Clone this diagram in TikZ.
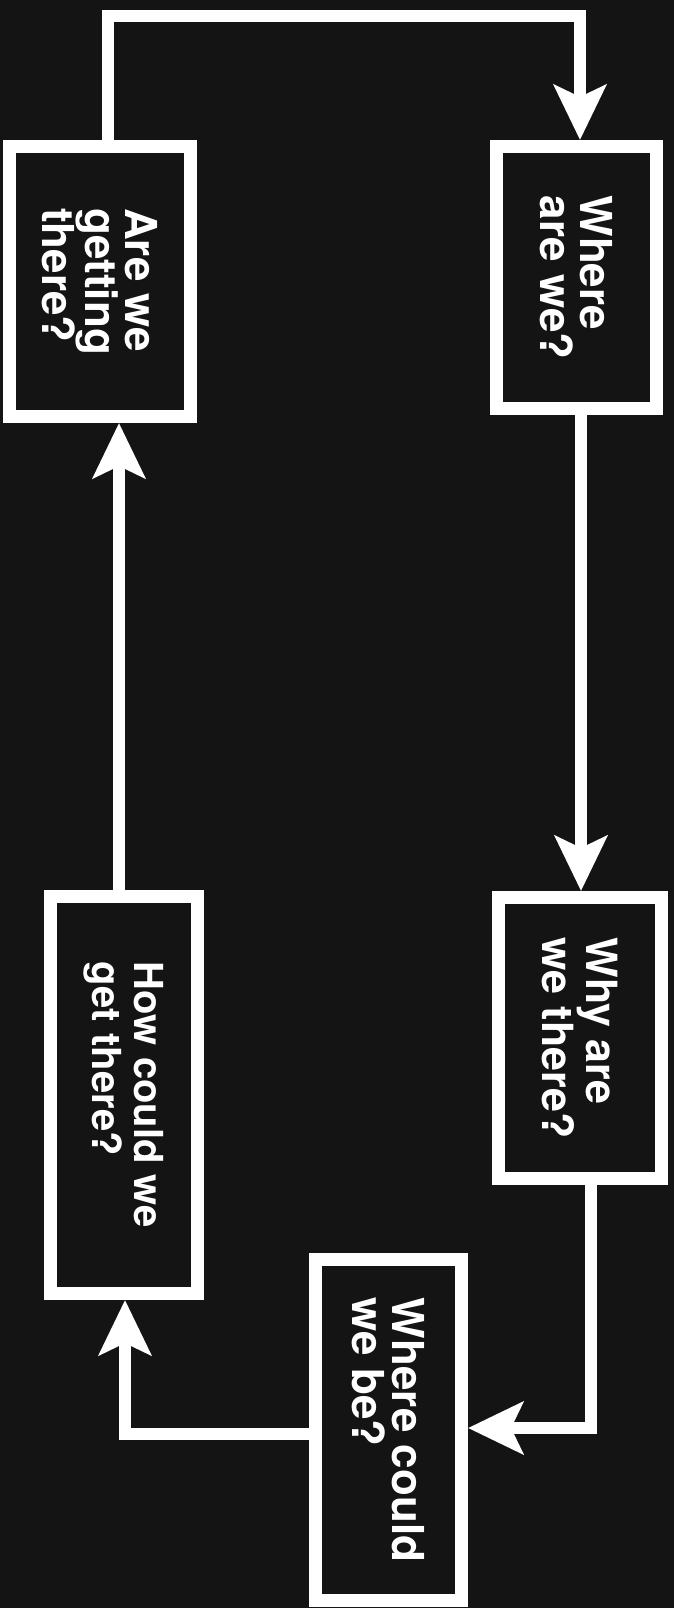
\documentclass[tikz,border=0pt]{standalone}
\usepackage{fontspec}
\setmainfont{TeX Gyre Heros}
\usetikzlibrary{arrows.meta}
\definecolor{bg}{RGB}{20,20,20}
\tikzset{
  box/.style 2 args={draw=white, line width=13pt, inner sep=0pt, minimum width=#1, minimum height=#2},
  txt/.style={text=white, rotate=-90, align=left, inner sep=0pt, font=\fontsize{44pt}{40pt}\selectfont\bfseries},
  txty/.style={txt, font=\fontsize{43pt}{44pt}\selectfont\bfseries},
  txth/.style={txt, font=\fontsize{40pt}{42pt}\selectfont\bfseries},
  arr/.style={draw=white, line width=12pt, line join=miter, -{Stealth[length=55pt,width=52pt,inset=12pt]}}
}
\begin{document}
\begin{tikzpicture}[x=1pt,y=-1pt]
  \fill[bg] (0,0) rectangle (674,1608);
  % boxes (outer extents measured in px)
  \node[box={181pt}{270pt}] (A) at (100,281.5) {};
  \node[box={160pt}{262pt}] (W) at (576.5,277.5) {};
  \node[box={163pt}{281pt}] (Y) at (580,1038) {};
  \node[box={146pt}{341pt}] (C) at (388.5,1430) {};
  \node[box={147pt}{397pt}] (H) at (124,1095) {};
  % texts
  \node[txt] (At) at (A) {Are we\\getting\\there?};
  \node[txt] (Wt) at (W) {Where\\are we?};
  \node[txty] (Yt) at (Y) {Why are\\we there?};
  \node[txt] (Ct) at (C) {Where could\\we be?};
  \node[txth] (Ht) at (H) {How could we\\get there?};
  % corner coordinates
  \coordinate (c1) at (108,16);
  \coordinate (c2) at (580,16);
  \coordinate (x1) at (581,0);
  \coordinate (c3) at (591,1428);
  \coordinate (c4) at (125,1434);
  \coordinate (x2) at (119,0);
  % connectors
  \draw[arr] (c1 |- A.north) -- (c1) -- (c2) -- (c2 |- W.north);
  \draw[arr] (W.south -| x1) -- (Y.north -| x1);
  \draw[arr] (Y.south -| c3) -- (c3) -- (c3 -| C.east);
  \draw[arr] (c4 -| C.west) -- (c4) -- (c4 |- H.south);
  \draw[arr] (H.north -| x2) -- (A.south -| x2);
\end{tikzpicture}
\end{document}
